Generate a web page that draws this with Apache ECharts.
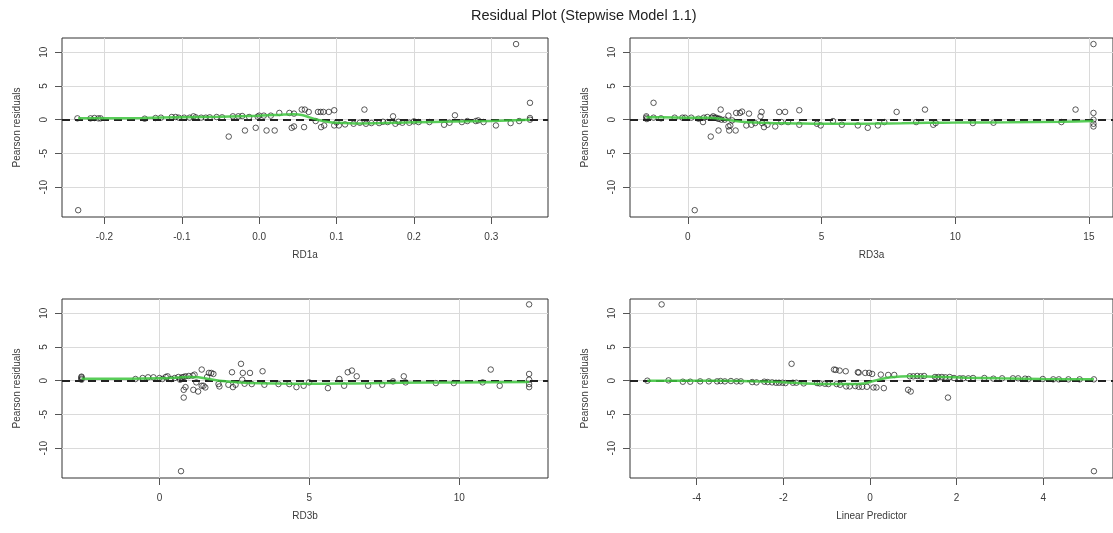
<!DOCTYPE html>
<html><head><meta charset="utf-8">
<script src="https://cdn.jsdelivr.net/npm/echarts@6/dist/echarts.min.js"></script>
<style>html,body{margin:0;padding:0;background:#fff}#c{width:1113px;height:533px}</style>
</head><body><div id="c"></div>
<script>
// ---------- text ----------
const chartTitle = 'Residual Plot (Stepwise Model 1.1)';
const yName = 'Pearson residuals';
const xNames = ['RD1a', 'RD3a', 'RD3b', 'Linear Predictor'];

// ---------- y axis (shared) ----------
const yTicks = [-10, -5, 0, 5, 10];
const yTickLabels = ['-10', '-5', '0', '5', '10'];
const yRange = [-14.41, 12.10];

// ---------- x axes ----------
const rd1aTicks = [-0.2, -0.1, 0, 0.1, 0.2, 0.3];
const rd1aTickLabels = ['-0.2', '-0.1', '0.0', '0.1', '0.2', '0.3'];
const rd1aRange = [-0.2549, 0.3733];
const rd3aTicks = [0, 5, 10, 15];
const rd3aTickLabels = ['0', '5', '10', '15'];
const rd3aRange = [-2.16, 15.9];
const rd3bTicks = [0, 5, 10];
const rd3bTickLabels = ['0', '5', '10'];
const rd3bRange = [-3.25, 12.96];
const lpTicks = [-4, -2, 0, 2, 4];
const lpTickLabels = ['-4', '-2', '0', '2', '4'];
const lpRange = [-5.54, 5.61];

// ---------- points [x, Pearson residual] ----------
const rd1aPoints = [
  [-0.235, 0.2], [-0.234, -13.4], [-0.218, 0.2], [-0.213, 0.25], [-0.208, 0.2], [-0.205, 0.2],
  [-0.148, 0.15], [-0.134, 0.25], [-0.127, 0.3], [-0.113, 0.4], [-0.108, 0.4], [-0.104, 0.3],
  [-0.097, 0.3], [-0.09, 0.3], [-0.085, 0.5], [-0.082, 0.35], [-0.075, 0.3], [-0.069, 0.3], [-0.064, 0.35],
  [-0.055, 0.4], [-0.048, 0.35], [-0.0394, -2.5], [-0.034, 0.5], [-0.027, 0.5], [-0.022, 0.55],
  [-0.0184, -1.6], [-0.013, 0.4], [-0.0045, -1.2], [-0.002, 0.45], [0.0, 0.6], [0.006, 0.6], [0.0095, -1.6],
  [0.015, 0.6], [0.02, -1.6], [0.026, 1.0], [0.039, 1.0], [0.042, -1.2], [0.045, -1.0],
  [0.045, 0.9], [0.055, 1.5], [0.059, 1.5], [0.058, -1.1], [0.064, 1.15], [0.073, -0.2],
  [0.076, 1.15], [0.0795, 1.15], [0.083, 1.15], [0.08, -1.1], [0.084, -0.85], [0.09, 1.15],
  [0.097, 1.4], [0.097, -0.85], [0.1, -0.4], [0.103, -0.85], [0.111, -0.7], [0.122, -0.6], [0.13, -0.45],
  [0.136, 1.5], [0.138, -0.6], [0.145, -0.5], [0.155, -0.5], [0.16, -0.3], [0.166, -0.35], [0.173, 0.5],
  [0.176, -0.6], [0.18, -0.3], [0.185, -0.45], [0.194, -0.45], [0.2, -0.25], [0.206, -0.35], [0.22, -0.35],
  [0.239, -0.75], [0.246, -0.45], [0.253, 0.65], [0.262, -0.35], [0.269, -0.2], [0.28, -0.2],
  [0.283, -0.1], [0.29, -0.35], [0.306, -0.85], [0.325, -0.5], [0.332, 11.2], [0.336, -0.2],
  [0.35, 2.5], [0.35, 0.0], [0.35, 0.25]
];
const rd3aPoints = [
  [-1.55, 0.3], [-1.55, 0.5], [-1.53, 0.1], [-1.28, 2.5], [-1.28, 0.3], [-1.0, 0.2],
  [-0.49, 0.3], [-0.2, 0.3], [-0.1, 0.3], [0.26, -13.4], [0.13, 0.3], [0.4, 0.15],
  [0.57, -0.35], [0.6, 0.3], [0.73, 0.4], [0.86, -2.5], [0.9, 0.3], [0.95, 0.5],
  [1.0, 0.3], [1.06, 0.3], [1.13, 0.15], [1.18, 0.15], [1.15, -1.6], [1.23, 1.5],
  [1.26, 0.0], [1.38, 0.0], [1.52, -1.0], [1.55, -1.6], [1.52, 0.6], [1.59, -0.85],
  [1.66, -0.1], [1.79, -1.6], [1.81, 1.0], [1.95, 1.0], [2.03, 1.2], [2.19, -0.85],
  [2.29, 0.9], [2.38, -0.75], [2.52, -0.5], [2.72, 0.5], [2.76, 1.15], [2.78, -0.5],
  [2.85, -1.1], [2.98, -0.75], [3.27, -1.0], [3.42, 1.15], [3.5, -0.35], [3.64, 1.15],
  [3.75, -0.35], [4.17, 1.4], [4.17, -0.75], [4.83, -0.6], [4.97, -0.85], [5.43, -0.2],
  [5.76, -0.75], [6.36, -0.85], [6.73, -1.2], [7.11, -0.85], [7.35, -0.35], [7.81, 1.15],
  [8.54, -0.35], [8.87, 1.5], [9.18, -0.75], [9.27, -0.5], [10.66, -0.5], [11.43, -0.45],
  [13.97, -0.35], [14.5, 1.5], [15.17, 11.2], [15.17, 1.0], [15.17, 0.0], [15.17, -0.6], [15.17, -1.0]
];
const rd3bPoints = [
  [-2.6, 0.5], [-2.6, 0.3], [-2.6, 0.15], [-2.6, 0.6], [-0.8, 0.25], [-0.56, 0.4],
  [-0.38, 0.5], [-0.2, 0.5], [0.0, 0.4], [0.1, 0.25], [0.21, 0.55], [0.27, 0.65],
  [0.39, 0.25], [0.51, 0.4], [0.63, 0.55], [0.69, 0.15], [0.72, -13.4], [0.75, 0.5],
  [0.81, 0.55], [0.87, 0.65], [0.98, 0.7], [0.81, -2.5], [0.81, -1.35], [0.87, -0.95],
  [1.11, 0.75], [1.17, 0.9], [1.13, -1.35], [1.23, -0.25], [1.29, -1.6], [1.41, 1.65],
  [1.41, -0.75], [1.47, -0.75], [1.53, -1.0], [1.59, 0.55], [1.65, 1.15], [1.73, 1.15],
  [1.8, 1.0], [1.97, -0.5], [2.0, -0.85], [2.3, -0.6], [2.42, 1.25], [2.45, -0.95],
  [2.54, -0.6], [2.72, 2.5], [2.78, 1.15], [2.76, 0.15], [2.84, -0.45], [3.02, 1.15],
  [3.08, -0.5], [3.44, 1.4], [3.5, -0.6], [3.97, -0.5], [4.33, -0.5], [4.57, -0.95],
  [4.81, -0.75], [4.99, -0.25], [5.62, -1.1], [6.0, 0.25], [6.16, -0.75], [6.28, 1.25],
  [6.42, 1.5], [6.58, 0.65], [6.96, -0.75], [7.43, -0.6], [7.79, -0.1], [8.15, 0.65],
  [8.21, -0.25], [9.22, -0.35], [9.82, -0.35], [10.78, -0.25], [11.05, 1.65], [11.35, -0.75],
  [12.33, 11.3], [12.33, 1.0], [12.33, 0.15], [12.33, -0.5], [12.33, -0.95]
];
const lpPoints = [
  [-5.14, 0.0], [-4.81, 11.3], [-4.65, 0.05], [-4.32, -0.15], [-4.15, -0.15], [-3.92, -0.1],
  [-3.72, -0.1], [-3.53, -0.1], [-3.45, -0.05], [-3.35, -0.1], [-3.21, -0.05], [-3.08, -0.1],
  [-2.98, -0.1], [-2.72, -0.2], [-2.62, -0.25], [-2.44, -0.15], [-2.36, -0.2], [-2.26, -0.25],
  [-2.17, -0.3], [-2.1, -0.3], [-2.02, -0.3], [-1.95, -0.35], [-1.81, 2.5], [-1.78, -0.3],
  [-1.7, -0.3], [-1.53, -0.4], [-1.22, -0.35], [-1.16, -0.4], [-1.04, -0.45], [-0.96, -0.5],
  [-0.83, 1.65], [-0.79, 1.6], [-0.77, -0.5], [-0.7, 1.5], [-0.69, -0.6], [-0.56, 1.4],
  [-0.55, -0.85], [-0.47, -0.85], [-0.34, -0.8], [-0.28, 1.25], [-0.26, 1.2], [-0.26, -0.9],
  [-0.18, -0.9], [-0.11, 1.15], [-0.07, -0.9], [-0.02, 1.15], [0.05, 1.0], [0.08, -1.0],
  [0.15, -1.0], [0.25, 0.9], [0.32, -1.1], [0.42, 0.85], [0.56, 0.85], [0.88, -1.35],
  [0.94, -1.6], [0.92, 0.65], [1.0, 0.65], [1.09, 0.7], [1.17, 0.65], [1.25, 0.7],
  [1.5, 0.55], [1.54, 0.35], [1.58, 0.55], [1.66, 0.55], [1.74, 0.5], [1.8, -2.5],
  [1.84, 0.55], [1.94, 0.4], [2.07, 0.35], [2.15, 0.35], [2.27, 0.35], [2.38, 0.4],
  [2.64, 0.4], [2.85, 0.3], [3.05, 0.35], [3.3, 0.35], [3.42, 0.35], [3.58, 0.3],
  [3.66, 0.25], [3.99, 0.25], [4.23, 0.2], [4.36, 0.2], [4.58, 0.2], [4.84, 0.2],
  [5.17, 0.2], [5.17, -13.4]
];

// ---------- smooth (green) curves ----------
const rd1aSmooth = [[-0.234, 0.2], [-0.2, 0.22], [-0.15, 0.25], [-0.1, 0.38], [-0.05, 0.45], [0.0, 0.6],
  [0.03, 0.75], [0.045, 0.8], [0.055, 0.7], [0.065, 0.35], [0.075, 0.0], [0.09, -0.35], [0.1, -0.45],
  [0.13, -0.55], [0.16, -0.5], [0.2, -0.38], [0.25, -0.28], [0.3, -0.18], [0.35, -0.02]];
const rd3aSmooth = [[-1.55, 0.35], [-1, 0.35], [0, 0.3], [0.8, 0.3], [1.2, 0.15], [1.6, -0.1], [2, -0.3],
  [3, -0.5], [4, -0.55], [5, -0.6], [6, -0.6], [7, -0.58], [8, -0.52], [9, -0.45], [10, -0.43],
  [12, -0.38], [14, -0.3], [15.17, -0.2]];
const rd3bSmooth = [[-2.6, 0.3], [-1, 0.3], [0, 0.35], [0.5, 0.45], [1.0, 0.55], [1.3, 0.5], [1.7, 0.2],
  [2.0, 0.0], [2.5, -0.2], [3, -0.35], [4, -0.42], [5, -0.45], [6, -0.42], [7, -0.38], [8, -0.32],
  [10, -0.25], [12.33, -0.2]];
const lpSmooth = [[-5.14, 0.0], [-4, 0.0], [-3, -0.05], [-2.5, -0.12], [-2, -0.22], [-1.5, -0.4],
  [-1, -0.5], [-0.5, -0.5], [-0.15, -0.42], [0, -0.2], [0.2, 0.15], [0.5, 0.5], [0.9, 0.65],
  [1.3, 0.62], [1.7, 0.55], [2.2, 0.45], [3, 0.35], [4, 0.25], [5.17, 0.2]];

// ---------- build ----------
const panels = [
  { pts: rd1aPoints, sm: rd1aSmooth, ticks: rd1aTicks, labels: rd1aTickLabels, range: rd1aRange, grid: { left: 62, top: 38, width: 486, height: 179 } },
  { pts: rd3aPoints, sm: rd3aSmooth, ticks: rd3aTicks, labels: rd3aTickLabels, range: rd3aRange, grid: { left: 630, top: 38, width: 486, height: 179 } },
  { pts: rd3bPoints, sm: rd3bSmooth, ticks: rd3bTicks, labels: rd3bTickLabels, range: rd3bRange, grid: { left: 62, top: 299, width: 486, height: 179 } },
  { pts: lpPoints, sm: lpSmooth, ticks: lpTicks, labels: lpTickLabels, range: lpRange, grid: { left: 630, top: 299, width: 486, height: 179 } }
];

const font = 'Liberation Sans, Arial, sans-serif';
const txt = '#3a3a3a';
function lab(ticks, labels) {
  return function (v) {
    let best = 0;
    for (let i = 1; i < ticks.length; i++) if (Math.abs(ticks[i] - v) < Math.abs(ticks[best] - v)) best = i;
    return labels[best];
  };
}

const grids = [], xAxes = [], yAxes = [], series = [];
panels.forEach(function (p, i) {
  grids.push(Object.assign({ show: true, borderColor: '#333', borderWidth: 1, backgroundColor: 'transparent' }, p.grid));
  xAxes.push({
    type: 'value', gridIndex: i, min: p.range[0], max: p.range[1],
    name: xNames[i], nameLocation: 'middle', nameGap: 33,
    nameTextStyle: { color: txt, fontSize: 10, fontFamily: font },
    axisLine: { show: false, onZero: false },
    axisTick: { show: true, length: 7, customValues: p.ticks, lineStyle: { color: '#555' } },
    axisLabel: { customValues: p.ticks, formatter: lab(p.ticks, p.labels), margin: 15, color: txt, fontSize: 10, fontFamily: font },
    splitLine: { show: true, lineStyle: { color: '#dadada', width: 1 } }
  });
  yAxes.push({
    type: 'value', gridIndex: i, min: yRange[0], max: yRange[1],
    name: yName, nameLocation: 'middle', nameGap: 40, nameRotate: 90,
    nameTextStyle: { color: txt, fontSize: 10, fontFamily: font },
    axisLine: { show: false, onZero: false },
    axisTick: { show: true, length: 7, customValues: yTicks, lineStyle: { color: '#555' } },
    axisLabel: { customValues: yTicks, formatter: lab(yTicks, yTickLabels), rotate: 90, margin: 13, color: txt, fontSize: 10, fontFamily: font },
    splitLine: { show: true, lineStyle: { color: '#dadada', width: 1 } }
  });
  series.push({
    type: 'scatter', xAxisIndex: i, yAxisIndex: i, data: p.pts,
    symbol: 'circle', symbolSize: 5.5, z: 3,
    itemStyle: { color: 'rgba(255,255,255,0)', borderColor: '#1a1a1a', borderWidth: 0.9 },
    markLine: {
      silent: true, symbol: 'none', label: { show: false }, z: 4,
      lineStyle: { type: [8, 5], color: '#222', width: 2 },
      data: [{ yAxis: 0 }]
    },
    animation: false
  });
  series.push({
    type: 'line', xAxisIndex: i, yAxisIndex: i, data: p.sm, smooth: 0.3,
    showSymbol: false, z: 5,
    lineStyle: { color: '#3cc43c', width: 2.5, opacity: 0.85 },
    animation: false
  });
});

const chart = echarts.init(document.getElementById('c'), null, { renderer: 'canvas' });
chart.setOption({
  backgroundColor: '#fff',
  animation: false,
  title: { text: chartTitle, left: 466, top: 3, textStyle: { fontSize: 14.5, fontWeight: 'normal', color: '#222', fontFamily: font } },
  grid: grids, xAxis: xAxes, yAxis: yAxes, series: series
});
</script></body></html>
